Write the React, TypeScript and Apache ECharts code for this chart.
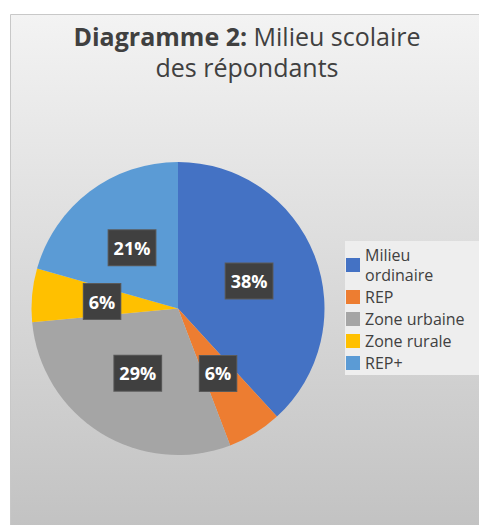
import React, { useEffect, useRef } from "react";
import * as echarts from "echarts";

const categories = ["Milieu ordinaire", "REP", "Zone urbaine", "Zone rurale", "REP+"];
const values = [38.2, 6.0, 29.3, 5.9, 20.6];
const colors = ["#4472C4", "#ED7D31", "#A5A5A5", "#FFC000", "#5B9BD5"];
const titleBold = "Diagramme 2:";
const titleRest = " Milieu scolaire";
const titleLine2 = "des répondants";

export default function App() {
  const ref = useRef<HTMLDivElement>(null);
  useEffect(() => {
    if (!ref.current) return;
    const chart = echarts.init(ref.current, undefined, { renderer: "svg" });
    const font = "'Open Sans', sans-serif";
    chart.setOption({
      animation: false,
      backgroundColor: "#ffffff",
      color: colors,
      graphic: [
        {
          type: "rect",
          z: 0,
          shape: { x: 10.5, y: 14.5, width: 472, height: 515 },
          style: {
            fill: {
              type: "linear",
              x: 0,
              y: 0,
              x2: 0,
              y2: 1,
              colorStops: [
                { offset: 0, color: "#f3f3f3" },
                { offset: 1, color: "#c2c2c2" },
              ],
            },
            stroke: "#c8c8c8",
            lineWidth: 1,
          },
        },
        {
          type: "text",
          z: 1,
          x: 247,
          y: 20,
          style: {
            text: `{b|${titleBold}}{r|${titleRest}}\n{r|${titleLine2}}`,
            align: "center",
            verticalAlign: "top",
            rich: {
              b: { fontFamily: font, fontSize: 25, fontWeight: "bold", fill: "#404040", lineHeight: 31 },
              r: { fontFamily: font, fontSize: 25, fill: "#404040", lineHeight: 31 },
            },
          },
        },
      ],
      legend: {
        orient: "vertical",
        left: 345,
        top: 241,
        padding: [4, 20, 2, 1],
        backgroundColor: "#eeeeee",
        itemWidth: 14,
        itemHeight: 14,
        itemGap: 2,
        icon: "rect",
        selectedMode: false,
        data: categories,
        formatter: (name: string) => name.replace("Milieu ordinaire", "Milieu\nordinaire"),
        textStyle: { fontFamily: font, fontSize: 16, color: "#404040", lineHeight: 20 },
      },
      series: [
        {
          type: "pie",
          center: [178, 308.5],
          radius: 146.5,
          startAngle: 90,
          clockwise: true,
          avoidLabelOverlap: false,
          data: categories.map((c, i) => ({ name: c, value: values[i] })),
          itemStyle: { borderWidth: 0 },
          label: {
            show: true,
            position: "inside",
            formatter: (p: any) => Math.round(p.percent) + "%",
            fontFamily: font,
            fontSize: 18,
            fontWeight: "bold",
            color: "#ffffff",
            backgroundColor: "#404040",
            borderColor: "#5a5a5a",
            borderWidth: 1,
            padding: [8, 5],
            lineHeight: 19,
          },
          labelLine: { show: false },
          emphasis: { disabled: true },
        },
      ],
    });
    return () => chart.dispose();
  }, []);
  return (
    <div
      ref={ref}
      style={{ position: "absolute", left: 0, top: 0, width: 479, height: 525 }}
    />
  );
}
